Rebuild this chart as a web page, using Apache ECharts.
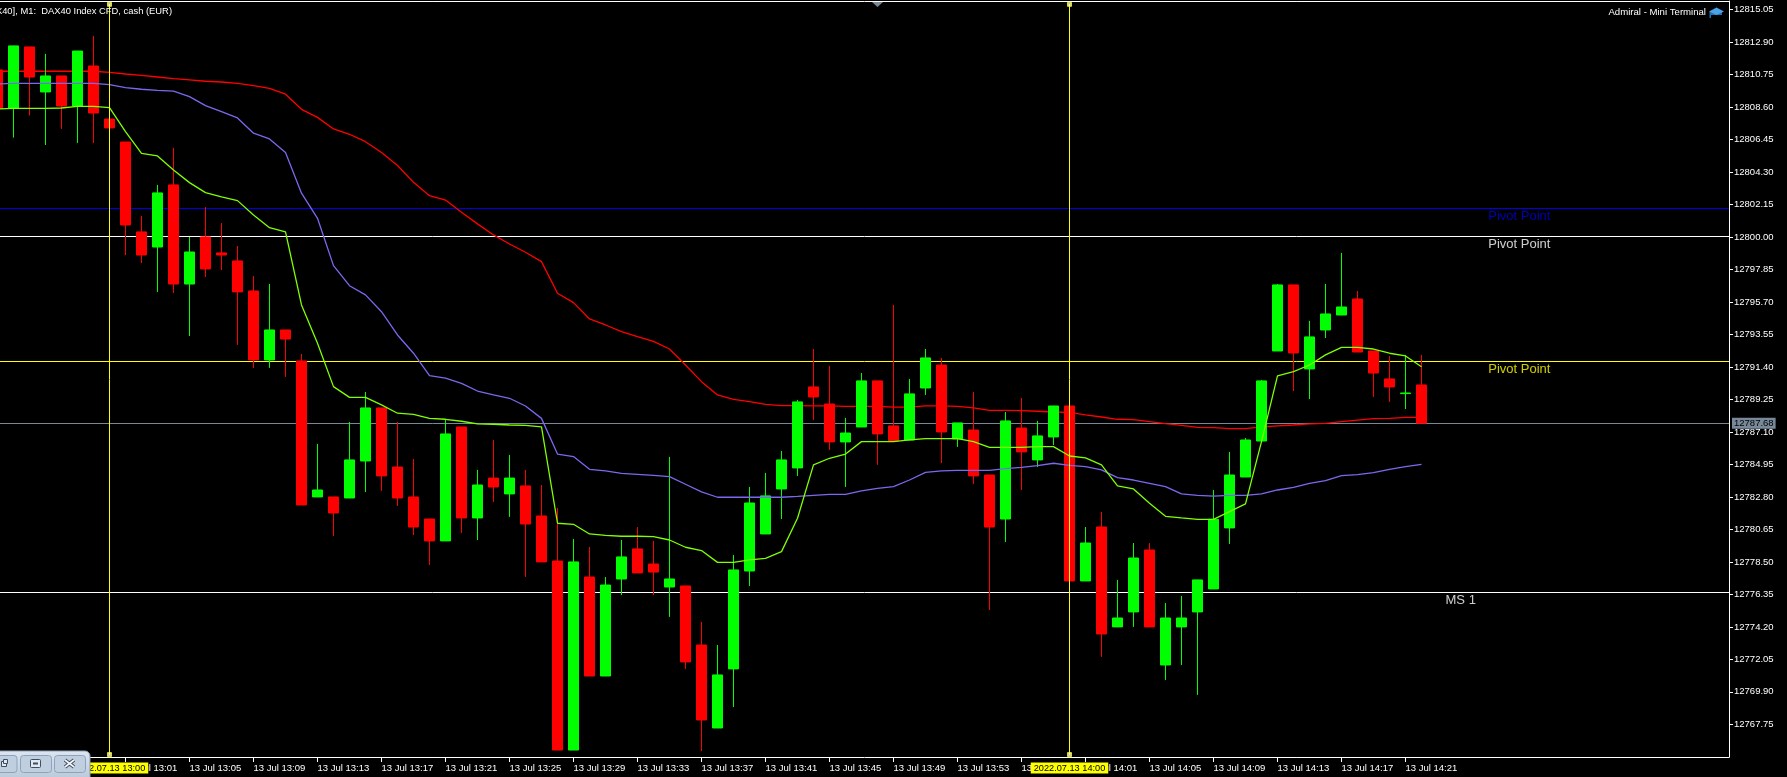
<!DOCTYPE html>
<html>
<head>
<meta charset="utf-8">
<style>html,body{margin:0;padding:0;background:#000;overflow:hidden}#c{width:1787px;height:777px}</style>
<script src="https://cdn.jsdelivr.net/npm/echarts@6/dist/echarts.min.js"></script>
</head>
<body>
<div id="c"></div>
<script>
// minute offsets from 13:00; first bar is 12:53
const firstMinute = -7;
const opens = [12811.06,12808.54,12812.58,12809.60,12810.66,12808.67,12811.32,12807.81,12806.29,12800.34,12799.34,12803.45,12796.89,12800.01,12798.95,12798.42,12796.43,12791.87,12793.85,12791.80,12782.80,12782.80,12782.73,12785.18,12788.69,12784.78,12782.80,12781.34,12779.89,12787.43,12781.41,12784.05,12783.00,12783.53,12781.54,12778.56,12766.05,12777.50,12770.95,12777.37,12779.36,12778.36,12776.84,12776.91,12773.00,12767.51,12771.42,12777.90,12780.35,12783.33,12784.72,12790.08,12788.95,12786.44,12787.43,12790.48,12787.50,12786.57,12790.01,12791.53,12786.64,12787.23,12784.25,12781.34,12787.36,12785.25,12786.77,12788.82,12777.24,12780.81,12774.20,12775.19,12779.29,12771.68,12774.20,12775.19,12776.71,12780.75,12784.12,12786.50,12792.46,12796.83,12791.27,12793.85,12794.84,12795.90,12792.46,12790.61,12789.64,12790.21];
const closes = [12808.52,12812.65,12810.59,12810.66,12808.67,12812.31,12808.21,12807.22,12800.80,12798.81,12802.92,12796.89,12799.01,12797.89,12798.81,12796.37,12791.87,12793.85,12793.25,12782.27,12783.26,12781.74,12785.25,12788.69,12784.19,12782.73,12780.81,12779.89,12786.97,12781.41,12783.59,12783.46,12784.05,12781.01,12778.50,12766.05,12778.50,12770.95,12776.97,12778.83,12777.77,12777.83,12777.37,12771.88,12768.04,12771.02,12777.97,12782.40,12782.87,12785.25,12789.09,12789.42,12786.44,12787.03,12790.48,12786.97,12786.50,12789.62,12792.00,12787.10,12787.70,12784.19,12780.81,12787.83,12785.78,12786.84,12788.82,12777.24,12779.75,12773.73,12774.79,12778.76,12774.20,12774.79,12774.79,12777.31,12781.32,12784.25,12786.57,12790.48,12796.83,12792.33,12793.39,12794.91,12795.37,12792.39,12791.00,12790.08,12789.68,12787.68];
const lows = [12808.52,12806.58,12808.04,12806.09,12807.15,12806.23,12806.23,12807.22,12798.81,12798.28,12796.37,12796.30,12793.45,12797.36,12797.82,12792.86,12791.34,12791.34,12790.74,12782.27,12782.80,12780.22,12782.73,12783.13,12783.20,12782.20,12780.28,12778.30,12779.89,12780.42,12779.95,12782.47,12781.48,12777.50,12778.50,12766.05,12766.05,12770.95,12770.95,12776.31,12777.77,12776.31,12774.86,12771.42,12765.99,12767.51,12768.90,12776.91,12780.35,12781.34,12784.19,12787.89,12785.91,12783.46,12787.43,12784.92,12786.50,12786.57,12789.55,12785.05,12786.11,12783.66,12775.32,12779.82,12783.26,12784.78,12786.24,12777.24,12777.24,12772.21,12774.20,12774.20,12774.20,12770.69,12771.68,12769.70,12776.71,12779.69,12784.12,12786.50,12792.46,12789.81,12789.28,12793.32,12794.84,12792.39,12789.42,12789.09,12788.62,12787.68];
const highs = [12811.06,12812.65,12812.58,12812.12,12810.66,12812.31,12813.31,12807.81,12806.29,12801.40,12803.45,12805.90,12800.01,12801.99,12800.93,12799.41,12797.42,12796.89,12793.85,12792.26,12786.31,12782.80,12787.76,12789.75,12788.69,12787.76,12785.31,12781.34,12787.96,12787.43,12784.59,12786.57,12785.58,12784.59,12783.59,12782.07,12780.02,12779.49,12777.50,12779.95,12780.81,12779.89,12785.45,12776.91,12774.53,12773.00,12778.96,12783.46,12784.39,12785.84,12789.22,12792.59,12791.47,12788.03,12791.00,12790.48,12795.51,12790.61,12792.59,12792.00,12787.70,12789.75,12784.25,12788.42,12789.35,12787.83,12788.82,12788.82,12780.81,12781.81,12777.31,12779.75,12779.75,12775.78,12776.25,12777.31,12783.26,12785.78,12786.70,12790.54,12796.89,12796.83,12794.45,12796.89,12798.95,12796.43,12792.46,12792.13,12792.20,12792.20];
const maGreen = [12808.48,12808.52,12808.52,12808.52,12808.54,12808.65,12808.65,12808.56,12806.98,12805.54,12805.37,12804.44,12803.60,12802.94,12802.65,12802.41,12801.46,12800.62,12800.34,12795.51,12792.97,12790.10,12789.39,12789.39,12788.89,12788.34,12788.27,12788.00,12787.94,12787.81,12787.63,12787.61,12787.56,12787.54,12787.43,12781.06,12780.99,12780.35,12780.26,12780.20,12780.20,12780.17,12779.95,12779.47,12779.25,12778.47,12778.47,12778.63,12778.74,12779.18,12781.39,12784.92,12785.36,12785.64,12786.46,12786.46,12786.46,12786.57,12786.66,12786.66,12786.66,12786.46,12786.08,12786.08,12786.08,12786.13,12786.13,12785.51,12785.38,12784.92,12783.53,12783.33,12782.38,12781.52,12781.41,12781.32,12781.32,12781.83,12782.34,12786.46,12790.81,12791.09,12791.53,12792.20,12792.70,12792.70,12792.59,12792.31,12792.13,12791.42];
const maPurple = [12810.13,12810.17,12810.17,12810.17,12810.17,12810.17,12810.17,12810.09,12809.89,12809.78,12809.71,12809.65,12809.29,12808.70,12808.30,12807.88,12806.87,12806.49,12805.59,12802.90,12801.24,12798.11,12796.78,12796.17,12795.06,12793.52,12792.31,12790.83,12790.67,12790.32,12789.81,12789.55,12789.33,12788.82,12788.00,12785.64,12785.47,12784.63,12784.52,12784.36,12784.30,12784.23,12784.14,12783.64,12783.13,12782.78,12782.78,12782.78,12782.78,12782.78,12782.84,12782.91,12782.97,12782.97,12783.20,12783.37,12783.48,12783.92,12784.43,12784.52,12784.56,12784.56,12784.56,12784.67,12784.76,12784.87,12785.03,12784.89,12784.81,12784.59,12784.08,12783.92,12783.70,12783.48,12783.00,12782.91,12782.86,12782.91,12782.91,12783.00,12783.26,12783.44,12783.70,12783.88,12784.21,12784.28,12784.41,12784.63,12784.81,12784.96];
const maRed = [12810.97,12810.97,12810.97,12810.97,12810.97,12810.97,12810.97,12810.90,12810.79,12810.70,12810.59,12810.48,12810.40,12810.31,12810.26,12810.17,12810.02,12809.84,12809.45,12808.45,12807.92,12807.15,12806.80,12806.31,12805.59,12804.73,12803.62,12802.74,12802.45,12801.64,12800.87,12800.14,12799.54,12798.99,12798.37,12796.28,12795.66,12794.58,12794.18,12793.74,12793.41,12793.10,12792.59,12791.53,12790.43,12789.55,12789.26,12789.11,12788.93,12788.84,12788.84,12788.82,12788.82,12788.80,12788.80,12788.80,12788.75,12788.75,12788.82,12788.82,12788.80,12788.69,12788.53,12788.53,12788.51,12788.47,12788.42,12788.40,12788.23,12788.09,12787.94,12787.92,12787.78,12787.65,12787.54,12787.41,12787.39,12787.32,12787.32,12787.43,12787.50,12787.56,12787.63,12787.67,12787.78,12787.89,12787.98,12788.00,12788.07,12788.07];

const yTicks = [12815.05,12812.90,12810.75,12808.60,12806.45,12804.30,12802.15,12800.00,12797.85,12795.70,12793.55,12791.40,12789.25,12787.10,12784.95,12782.80,12780.65,12778.50,12776.35,12774.20,12772.05,12769.90,12767.75];
const xTicks = [1,5,9,13,17,21,25,29,33,37,41,45,49,53,57,61,65,69,73,77,81];
const xTickLabels = ['13 Jul 13:01','13 Jul 13:05','13 Jul 13:09','13 Jul 13:13','13 Jul 13:17','13 Jul 13:21','13 Jul 13:25','13 Jul 13:29','13 Jul 13:33','13 Jul 13:37','13 Jul 13:41','13 Jul 13:45','13 Jul 13:49','13 Jul 13:53','13 Jul 13:57','13 Jul 14:01','13 Jul 14:05','13 Jul 14:09','13 Jul 14:13','13 Jul 14:17','13 Jul 14:21'];

const lastPrice = 12787.68;
const levelValues = [12801.90, 12800.05, 12791.78, 12776.49, lastPrice];
const levelColors = ['#0000e6', '#ffffff', '#ffff00', '#ffffff', '#778899'];
const levelNames = ['Pivot Point', 'Pivot Point', 'Pivot Point', 'MS 1'];
const levelNameX = [86.14, 86.14, 86.14, 83.47];
const levelNameY = [12801.35, 12799.52, 12791.25, 12775.96];
const cursorMinutes = [0, 60];
const cursorLabels = ['2022.07.13 13:00', '2022.07.13 14:00'];
const cursorTop = 12815.40, cursorBottom = 12765.75;

const FONT = '"Liberation Sans", Arial, sans-serif';
const TICK_FONT = 9.5;
const xs = closes.map((_, i) => firstMinute + i);
const candleData = closes.map((c, i) => [xs[i], opens[i], c, lows[i], highs[i]]);
const maSeries = (name, arr, color, z) => ({
  name, type: 'line', z, data: arr.map((v, i) => [xs[i], v]),
  showSymbol: false, symbol: 'none', lineStyle: { color, width: 1.3 }, silent: true, animation: false
});
const xMin = -6.84375, xMax = 101.21875, yMin = 12765.59, yMax = 12815.62;

const option = {
  backgroundColor: '#000',
  animation: false,
  textStyle: { fontFamily: FONT },
  title: [
    { text: '[DAX40], M1:  DAX40 Index CFD, cash (EUR)', right: 1615, top: 7, padding: 0,
      textStyle: { color: '#fff', fontSize: 9.4, fontWeight: 'normal', fontFamily: FONT } },
    { text: 'Admiral - Mini Terminal', right: 81, top: 7, padding: 0,
      textStyle: { color: '#fff', fontSize: 9.6, fontWeight: 'normal', fontFamily: FONT } }
  ],
  grid: { left: 0, right: 58, top: 1, bottom: 20, containLabel: false },
  xAxis: [
    { type: 'value', min: xMin, max: xMax, position: 'bottom', splitLine: { show: false },
      axisLine: { show: true, onZero: false, lineStyle: { color: '#fff', width: 1 } },
      axisTick: { show: true, length: 5, customValues: xTicks, lineStyle: { color: '#fff' } },
      axisLabel: { color: '#fff', fontSize: TICK_FONT, fontFamily: FONT, align: 'left', margin: 6, customValues: xTicks,
        formatter: v => xTickLabels[xTicks.indexOf(v)] || '' } },
    { type: 'value', min: xMin, max: xMax, position: 'top', splitLine: { show: false },
      axisLine: { show: true, onZero: false, lineStyle: { color: '#fff', width: 1 } },
      axisTick: { show: false }, axisLabel: { show: false } }
  ],
  yAxis: { type: 'value', min: yMin, max: yMax, position: 'right', splitLine: { show: false },
    axisLine: { show: true, onZero: false, lineStyle: { color: '#fff', width: 1 } },
    axisTick: { show: true, length: 4, customValues: yTicks, lineStyle: { color: '#fff' } },
    axisLabel: { color: '#fff', fontSize: TICK_FONT, fontFamily: FONT, margin: 5, align: 'left', customValues: yTicks,
      formatter: v => v.toFixed(2) } },
  series: [
    { name: 'Levels', type: 'line', z: 1, data: [], silent: true,
      markLine: { silent: true, symbol: 'none', z: 1, animation: false,
        data: levelValues.map((v, i) => ({
          yAxis: v,
          lineStyle: { color: levelColors[i], width: 1, type: 'solid' },
          label: v === lastPrice
            ? { show: true, position: 'end', distance: 3, formatter: v.toFixed(2), color: '#000', fontSize: TICK_FONT, fontFamily: FONT,
                backgroundColor: '#778899', padding: [1, 2, 1, 2], lineHeight: 9 }
            : { show: false }
        })) } },
    maSeries('MA slow', maRed, '#ff0000', 2),
    { name: 'DAX40', type: 'candlestick', z: 3, barWidth: 11, silent: true, clip: true,
      encode: { x: 0, y: [1, 2, 3, 4] }, data: candleData,
      itemStyle: { color: '#00ff00', color0: '#ff0000', borderColor: '#00ff00', borderColor0: '#ff0000', borderWidth: 1 } },
    maSeries('MA medium', maPurple, '#7b68ee', 4),
    maSeries('MA fast', maGreen, '#7fff00', 4),
    { name: 'Cursors', type: 'line', z: 5, data: [], silent: true,
      markLine: { silent: true, symbol: 'none', z: 6, animation: false,
        lineStyle: { color: '#ffff00', width: 1, type: 'solid' },
        data: cursorMinutes.map((m, i) => [
          { coord: [m, cursorTop] },
          { coord: [m, cursorBottom],
            label: { show: true, position: 'end', distance: 8, formatter: cursorLabels[i], color: '#000', fontSize: 9.2, fontFamily: FONT,
              backgroundColor: '#ffff00', padding: [1, 3, 0, 3], lineHeight: 10 } }
        ]) } },
    { name: 'Cursor handles', type: 'scatter', z: 7, silent: true, symbol: 'rect', symbolSize: 4,
      itemStyle: { color: '#fff', borderColor: '#ffff00', borderWidth: 1 },
      data: cursorMinutes.flatMap(m => [[m, cursorTop], [m, cursorBottom]]) },
    { name: 'Level names', type: 'scatter', z: 8, silent: true, symbolSize: 1,
      itemStyle: { color: 'transparent' },
      data: levelNames.map((t, i) => ({
        value: [levelNameX[i], levelNameY[i]],
        label: { show: true, position: 'right', distance: 0, formatter: t, color: levelColors[i], fontSize: 13, fontFamily: FONT }
      })) }
  ],
  graphic: [
    // chart-shift marker on the top edge
    { type: 'polygon', z: 50, shape: { points: [[872, 2], [883, 2], [877.5, 7]] }, style: { fill: '#778899' } },
    // graduation-cap icon
    { type: 'polygon', z: 50, shape: { points: [[1711, 15], [1722, 15], [1722, 12], [1711, 12]] }, style: { fill: '#1f6fb5' } },
    { type: 'polygon', z: 50, shape: { points: [[1709, 11.5], [1716.5, 7.5], [1724, 11.5], [1716.5, 15]] }, style: { fill: '#4aa3e8' } },
    { type: 'rect', z: 50, shape: { x: 1709.5, y: 12, width: 1.5, height: 6 }, style: { fill: '#1f6fb5' } },
    // terminal window controls, bottom left
    { type: 'rect', z: 60, shape: { x: -6, y: 751, width: 96, height: 32, r: [0, 5, 0, 0] },
      style: { stroke: '#8c9db0', lineWidth: 1, fill: { type: 'linear', x: 0, y: 0, x2: 0, y2: 1,
        colorStops: [{ offset: 0, color: '#dce6f1' }, { offset: 1, color: '#b4c4d6' }] } } },
    { type: 'rect', z: 61, shape: { x: -14, y: 755.5, width: 31, height: 17, r: 3 }, style: { fill: '#c0cfdf', stroke: '#8ea3bb' } },
    { type: 'rect', z: 61, shape: { x: 20.5, y: 755.5, width: 31, height: 17, r: 3 }, style: { fill: '#c0cfdf', stroke: '#8ea3bb' } },
    { type: 'rect', z: 61, shape: { x: 54.5, y: 755.5, width: 31, height: 17, r: 3 }, style: { fill: '#c0cfdf', stroke: '#8ea3bb' } },
    { type: 'rect', z: 62, shape: { x: 1.5, y: 761.5, width: 5, height: 5 }, style: { fill: '#dfe7f0', stroke: '#3f4d60' } },
    { type: 'rect', z: 62, shape: { x: 3.5, y: 759.5, width: 4, height: 4 }, style: { fill: '#dfe7f0', stroke: '#3f4d60' } },
    { type: 'rect', z: 62, shape: { x: 30.5, y: 759.5, width: 10, height: 8, r: 1 }, style: { fill: '#dfe7f0', stroke: '#3f4d60' } },
    { type: 'rect', z: 63, shape: { x: 33, y: 762.5, width: 5, height: 2 }, style: { fill: '#3f4d60' } },
    { type: 'line', z: 62, shape: { x1: 65, y1: 760, x2: 74, y2: 767 }, style: { stroke: '#3f4d60', lineWidth: 3.5 } },
    { type: 'line', z: 62, shape: { x1: 74, y1: 760, x2: 65, y2: 767 }, style: { stroke: '#3f4d60', lineWidth: 3.5 } },
    { type: 'line', z: 63, shape: { x1: 65, y1: 760, x2: 74, y2: 767 }, style: { stroke: '#f2f6fa', lineWidth: 1.6 } },
    { type: 'line', z: 63, shape: { x1: 74, y1: 760, x2: 65, y2: 767 }, style: { stroke: '#f2f6fa', lineWidth: 1.6 } }
  ]
};
const chart = echarts.init(document.getElementById('c'), null, { renderer: 'canvas', width: 1787, height: 777 });
chart.setOption(option);
</script>
</body>
</html>
